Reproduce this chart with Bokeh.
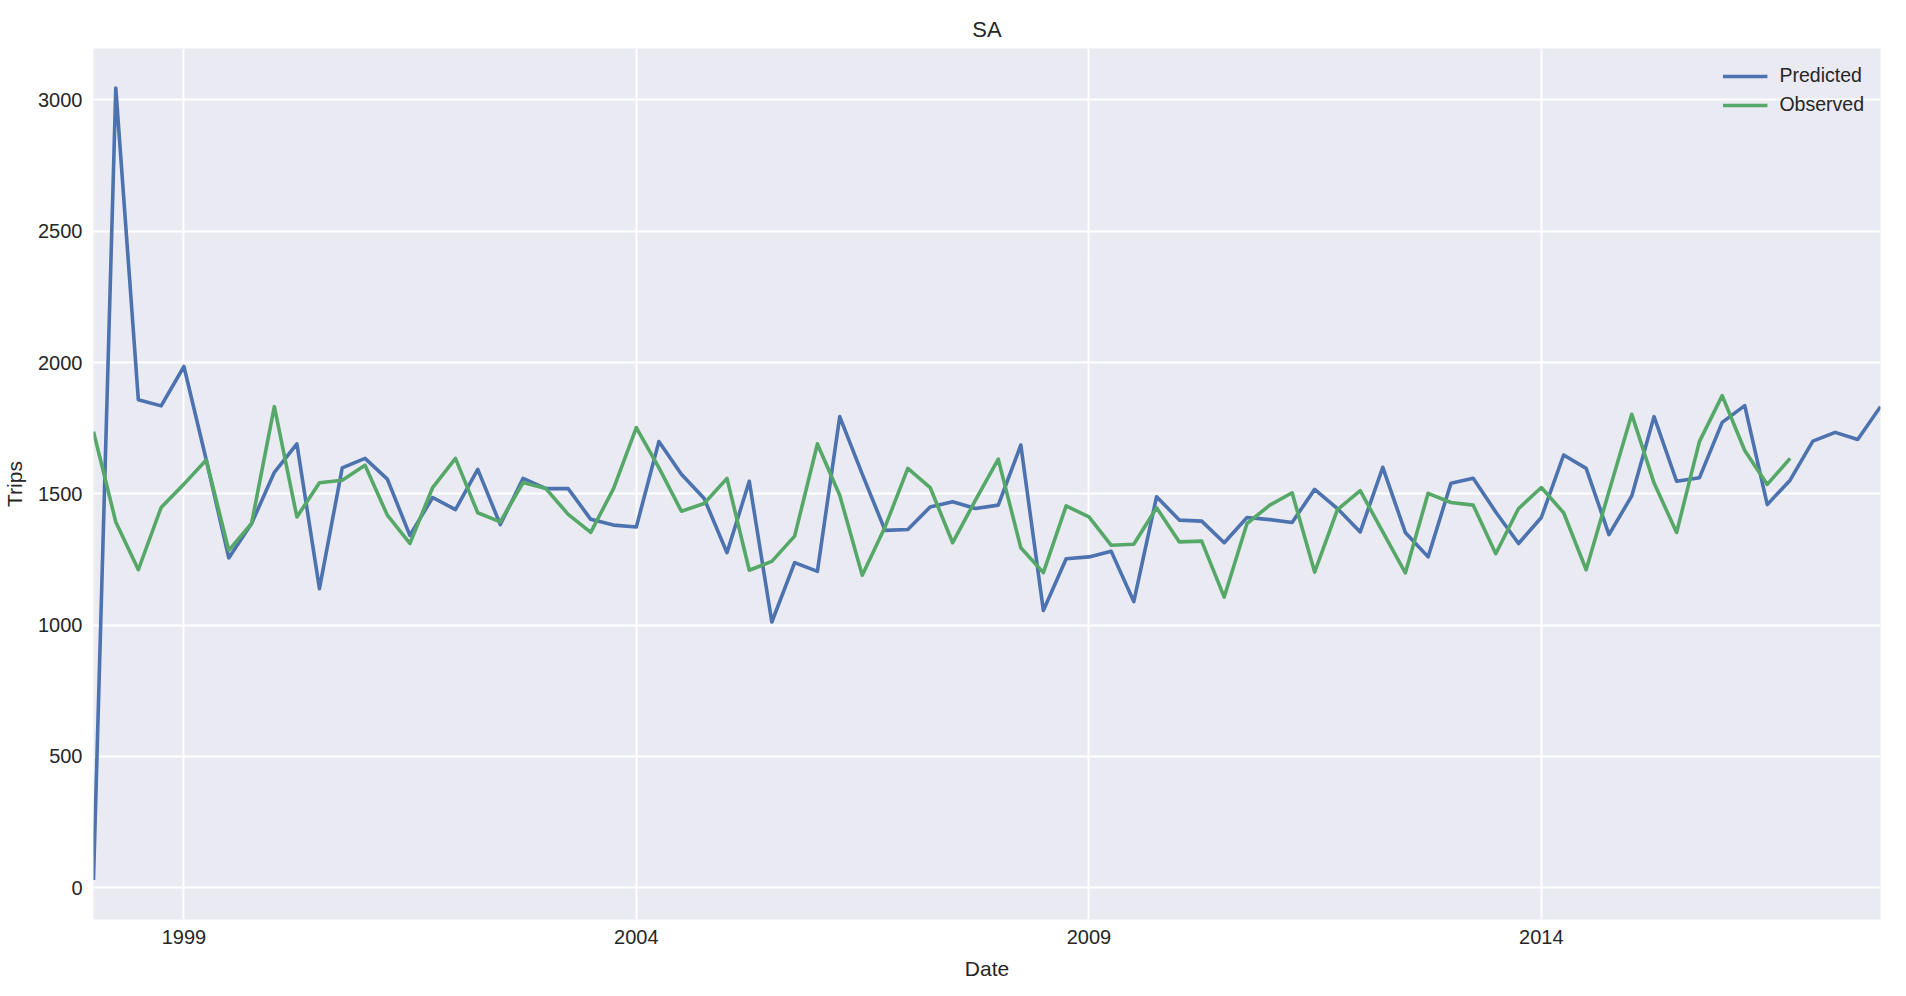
import pandas as pd
from bokeh.plotting import figure
from bokeh.models import Range1d, FixedTicker, DatetimeTickFormatter, Legend, LegendItem
from bokeh.embed import file_html
from bokeh.resources import INLINE

# ---- data (quarterly, first quarter = Jan 1998) ----
start_quarter = "1998-01-01"
predicted = [30, 3045, 1858, 1835, 1985, 1630, 1256, 1387, 1582, 1690,
             1139, 1599, 1635, 1556, 1342, 1486, 1440, 1593, 1383, 1559,
             1520, 1520, 1403, 1381, 1374, 1699, 1575, 1482, 1276, 1548,
             1012, 1238, 1205, 1794, 1575, 1361, 1364, 1450, 1470, 1444,
             1457, 1686, 1056, 1253, 1260, 1281, 1090, 1489, 1400, 1396,
             1314, 1410, 1402, 1391, 1517, 1444, 1355, 1601, 1353, 1260,
             1540, 1559, 1431, 1311, 1410, 1648, 1597, 1345, 1492, 1794,
             1548, 1561, 1772, 1836, 1459, 1552, 1701, 1734, 1707, 1832]
observed = [1737, 1393, 1211, 1448, 1537, 1629, 1285, 1387, 1832, 1412,
            1542, 1552, 1609, 1419, 1311, 1524, 1635, 1428, 1393, 1543,
            1520, 1422, 1353, 1520, 1752, 1600, 1434, 1463, 1559, 1209,
            1243, 1339, 1690, 1495, 1190, 1374, 1597, 1524, 1314, 1476,
            1632, 1295, 1200, 1454, 1412, 1304, 1308, 1447, 1317, 1320,
            1107, 1387, 1457, 1504, 1202, 1440, 1512, 1355, 1199, 1502,
            1467, 1457, 1272, 1444, 1524, 1428, 1211, 1509, 1803, 1541,
            1353, 1699, 1874, 1665, 1536, 1635]
x_tick_years = [1999, 2004, 2009, 2014]
y_ticks = [0, 500, 1000, 1500, 2000, 2500, 3000]

dates_pred = pd.date_range(start_quarter, periods=len(predicted), freq="QS")
dates_obs = dates_pred[:len(observed)]

FONT = "Liberation Sans"
TXT = "#262626"
BG = "#EAEAF2"

ymin, ymax = min(predicted), max(predicted)
pad = 0.05 * (ymax - ymin)

p = figure(width=1897, height=984, x_axis_type="datetime",
           output_backend="svg", toolbar_location=None, title="SA",
           min_border_left=80, min_border_right=17,
           min_border_top=48, min_border_bottom=65,
           x_range=Range1d(dates_pred[0].to_pydatetime(), dates_pred[-1].to_pydatetime()),
           y_range=Range1d(ymin - pad, ymax + pad))

p.background_fill_color = BG
p.border_fill_color = "white"
p.outline_line_color = None

p.title.align = "center"
p.title.text_font = FONT
p.title.text_font_size = "22px"
p.title.text_font_style = "normal"
p.title.text_color = TXT
p.title.standoff = 14

r_pred = p.line(dates_pred, predicted, line_color="#4C72B0", line_width=3.6, line_join="round")
r_obs = p.line(dates_obs, observed, line_color="#55A868", line_width=3.6, line_join="round")

p.xaxis.ticker = FixedTicker(ticks=[pd.Timestamp(f"{y}-01-01").timestamp() * 1000 for y in x_tick_years])
p.xaxis.formatter = DatetimeTickFormatter(years="%Y", months="%Y", days="%Y", hours="%Y")
p.yaxis.ticker = FixedTicker(ticks=y_ticks)

for ax in (p.xaxis, p.yaxis):
    ax.axis_line_color = None
    ax.major_tick_line_color = None
    ax.minor_tick_line_color = None
    ax.major_tick_out = 0
    ax.major_tick_in = 0
    ax.major_label_text_font = FONT
    ax.major_label_text_font_size = "20px"
    ax.major_label_text_color = TXT
    ax.axis_label_text_font = FONT
    ax.axis_label_text_font_size = "21px"
    ax.axis_label_text_font_style = "normal"
    ax.axis_label_text_color = TXT

p.xaxis.axis_label = "Date"
p.yaxis.axis_label = "Trips"
p.xaxis.major_label_standoff = 10
p.yaxis.major_label_standoff = 11
p.xaxis.axis_label_standoff = 10
p.yaxis.axis_label_standoff = 9

p.grid.grid_line_color = "white"
p.grid.grid_line_width = 2
p.grid.minor_grid_line_color = None

legend = Legend(items=[LegendItem(label="Predicted", renderers=[r_pred]),
                       LegendItem(label="Observed", renderers=[r_obs])],
                location="top_right")
legend.background_fill_alpha = 0
legend.border_line_alpha = 0
legend.label_text_font = FONT
legend.label_text_font_size = "19.5px"
legend.label_text_color = TXT
legend.glyph_width = 45
legend.glyph_height = 20
legend.label_height = 20
legend.label_standoff = 12
legend.spacing = 6
legend.margin = 9
legend.padding = 7
p.add_layout(legend)

open("out.html", "w").write(file_html(p, INLINE))
